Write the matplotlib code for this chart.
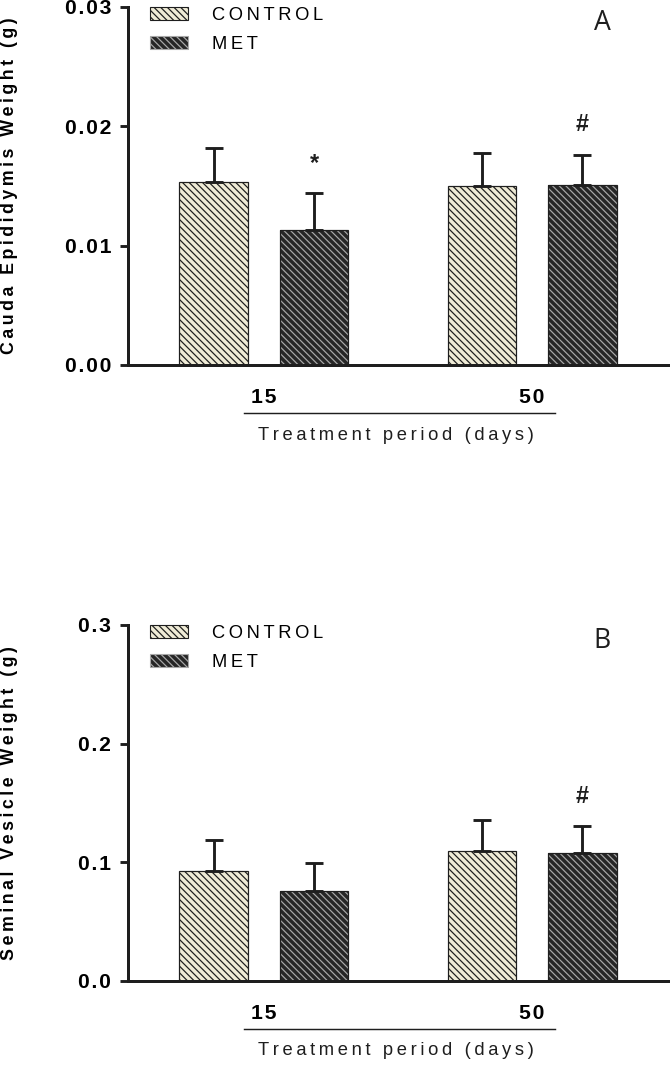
import matplotlib.pyplot as plt
from matplotlib.patches import Patch
import numpy as np

groups = ['15', '50']
series = ['CONTROL', 'MET']

cauda_control = [0.0153, 0.0150]
cauda_control_sd = [0.0029, 0.0028]
cauda_met = [0.0113, 0.0151]
cauda_met_sd = [0.0031, 0.0025]
cauda_marks = ['', '*', '', '#']

vesicle_control = [0.0930, 0.1093]
vesicle_control_sd = [0.0258, 0.0264]
vesicle_met = [0.0758, 0.1081]
vesicle_met_sd = [0.0233, 0.0225]
vesicle_marks = ['', '', '', '#']

plt.rcParams['font.family'] = ['Liberation Sans', 'DejaVu Sans']
plt.rcParams['hatch.linewidth'] = 1.1

CREAM = '#efebd6'
DARK = '#262626'
LINE = '#1e1e1e'
HATCH = '\\\\\\\\'


def spaced(s, gap='\u200a'):
    return gap.join(s)


def panel(ax, ctrl, ctrl_sd, met, met_sd, marks, ymax, yticks, fmt, ylabel, letter):
    x = np.arange(len(groups))
    off, w = 0.188, 0.254
    ax.bar(x - off, ctrl, w, color=CREAM, edgecolor=LINE, hatch=HATCH, linewidth=1.1, zorder=2)
    ax.bar(x + off, met, w, color=DARK, edgecolor='#a8a8a8', hatch=HATCH, linewidth=0, zorder=2)
    ax.bar(x + off, met, w, fill=False, edgecolor=LINE, linewidth=1.1, zorder=2)
    xs = np.concatenate([x - off, x + off])
    means = np.array(ctrl + met)
    sds = np.array(ctrl_sd + met_sd)
    ax.errorbar(xs, means, yerr=[np.zeros_like(sds), sds], fmt='none', ecolor=LINE,
                elinewidth=2.6, capsize=8, capthick=2.6, zorder=3)
    order = [0, 2, 1, 3]
    for i, m in enumerate(marks):
        if m:
            j = order[i]
            ax.annotate(m, (xs[j], means[j] + sds[j]), xytext=(0, 27), textcoords='offset points',
                        ha='center', va='center', fontsize=21, fontweight='bold', color=LINE)

    ax.set_xlim(-0.507, 1.507)
    ax.set_ylim(0, ymax)
    ax.set_yticks(yticks)
    ax.set_yticklabels([spaced(fmt.format(t)) for t in yticks], fontsize=19, fontweight='bold')
    ax.set_xticks(x)
    ax.set_xticklabels([spaced(g) for g in groups], fontsize=19, fontweight='bold')
    ax.tick_params(axis='x', length=0, pad=21)
    ax.tick_params(axis='y', length=7, width=2.6, pad=8, color=LINE)
    for s in ['top', 'right']:
        ax.spines[s].set_visible(False)
    for s in ['left', 'bottom']:
        ax.spines[s].set_linewidth(2.7)
        ax.spines[s].set_color(LINE)

    ax.set_ylabel(spaced(ylabel, '\u2009'), fontsize=16, fontweight='bold', va='center')
    ax.yaxis.set_label_coords(-0.2185, 0.5)

    ax.plot([-0.075, 1.086], [-0.134, -0.134], transform=ax.get_xaxis_transform(),
            color=LINE, lw=1.3, clip_on=False)
    ax.text(0.497, -0.196, spaced('Treatment period (days)', '\u2009'), transform=ax.transAxes,
            ha='center', va='center', fontsize=16.5, color=LINE)
    ax.text(0.878, 0.955, letter, transform=ax.transAxes, ha='center', va='center',
            fontsize=24, family='Open Sans', color=LINE)

    handles = [Patch(facecolor=CREAM, edgecolor=LINE, hatch=HATCH, linewidth=1),
               Patch(facecolor=DARK, edgecolor='#a8a8a8', hatch=HATCH, linewidth=1)]
    ax.legend(handles, [spaced(s, '\u2009') for s in series], loc='upper left',
              bbox_to_anchor=(0.04, 1.0), frameon=False, fontsize=16.5,
              handlelength=2.1, handleheight=0.75, handletextpad=1.3,
              labelspacing=0.65, borderpad=0, borderaxespad=0)


fig = plt.figure(figsize=(8.375, 13.375), dpi=80)
ax1 = fig.add_axes([0.191, 0.6589, 0.806, 0.3346])
ax2 = fig.add_axes([0.191, 0.0832, 0.806, 0.3327])

panel(ax1, cauda_control, cauda_control_sd, cauda_met, cauda_met_sd, cauda_marks,
      0.03, [0.0, 0.01, 0.02, 0.03], '{:.2f}', 'Cauda Epididymis Weight (g)', 'A')
panel(ax2, vesicle_control, vesicle_control_sd, vesicle_met, vesicle_met_sd, vesicle_marks,
      0.3, [0.0, 0.1, 0.2, 0.3], '{:.1f}', 'Seminal Vesicle Weight (g)', 'B')

fig.savefig('out.png', dpi=80)
